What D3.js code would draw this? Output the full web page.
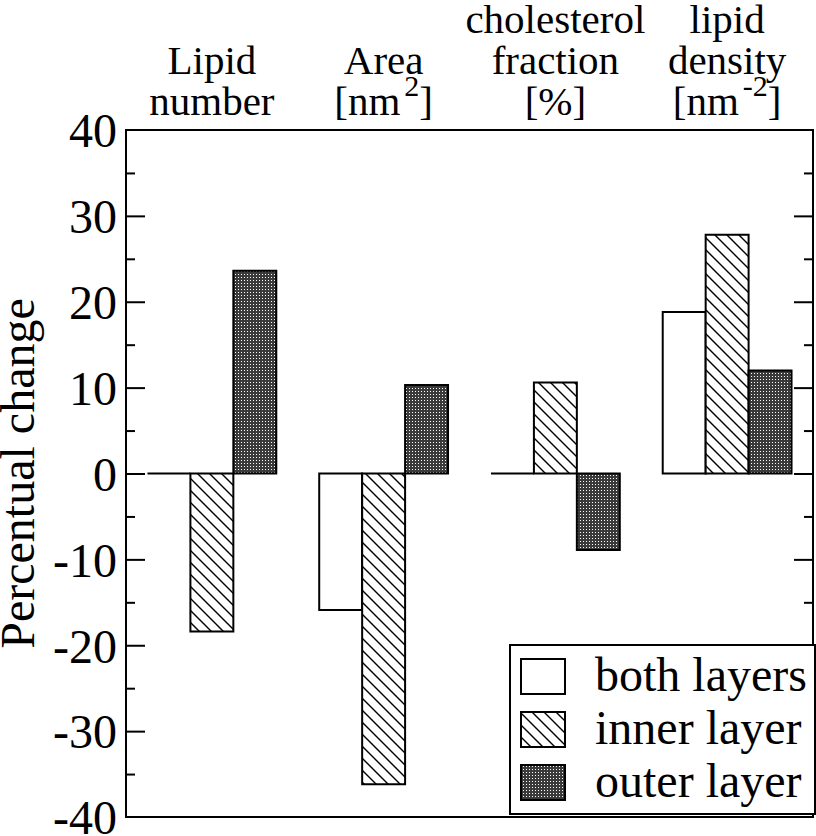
<!DOCTYPE html>
<html>
<head>
<meta charset="utf-8">
<script src="https://cdn.jsdelivr.net/npm/d3@7"></script>
<style>
  html, body { margin: 0; padding: 0; background: #fff; }
  svg { display: block; }
  text { font-family: "Liberation Serif", "Times New Roman", serif; fill: #000; }
</style>
</head>
<body>
<svg id="chart" width="816" height="836"></svg>
<script>
// ---- data ----
const categories = ["lipidNumber", "area", "cholesterol", "density"];
const categoryLabels = [
  [["Lipid"], ["number"]],
  [["Area"], ["[nm", {sup: "2"}, "]"]],
  [["cholesterol"], ["fraction"], ["[%]"]],
  [["lipid"], ["density"], ["[nm", {sup: "-2"}, "]"]]
];
const seriesNames = ["both layers", "inner layer", "outer layer"];
const bothLayers  = [0, -15.9, 0, 18.8];
const innerLayer  = [-18.4, -36.2, 10.6, 27.8];
const outerLayer  = [23.6, 10.3, -8.9, 12.0];
const yMajorTicks = [-40, -30, -20, -10, 0, 10, 20, 30, 40];
const yMinorTicks = [-35, -25, -15, -5, 5, 15, 25, 35];
const yTitle = "Percentual change";

const seriesValues = [bothLayers, innerLayer, outerLayer];

// ---- layout ----
const svg = d3.select("#chart");
const L = 126, R = 813, T = 130, B = 817;

const defs = svg.append("defs");
const hatch = defs.append("pattern").attr("id", "hatch")
  .attr("patternUnits", "userSpaceOnUse").attr("width", 12).attr("height", 12);
hatch.append("rect").attr("width", 12).attr("height", 12).attr("fill", "#fff");
hatch.append("path").attr("d", "M0,0 L12,12 M-2,10 L2,14 M10,-2 L14,2")
  .attr("stroke", "#000").attr("stroke-width", 1.4);
const dots = defs.append("pattern").attr("id", "dots")
  .attr("patternUnits", "userSpaceOnUse").attr("width", 3).attr("height", 3);
dots.append("rect").attr("width", 3).attr("height", 3).attr("fill", "#3a3a3a");
dots.append("rect").attr("x", 1).attr("y", 1).attr("width", 1).attr("height", 1).attr("fill", "#fff");

const fills = ["#fff", "url(#hatch)", "url(#dots)"];

const x = d3.scaleBand().domain(categories).range([L, R])
  .paddingInner(0.25).paddingOuter(0.125);
const xs = d3.scaleBand().domain(seriesNames).range([0, x.bandwidth()]).padding(0);
const y = d3.scaleLinear().domain([-40, 40]).range([B, T]);

// frame
svg.append("rect").attr("x", L).attr("y", T).attr("width", R - L).attr("height", B - T)
  .attr("fill", "none").attr("stroke", "#000").attr("stroke-width", 2);

// bars
const bars = [];
categories.forEach((c, i) => {
  seriesNames.forEach((s, j) => {
    bars.push({c, s, j, v: seriesValues[j][i]});
  });
});
svg.append("g").selectAll("path").data(bars).join("path")
  .attr("d", d => {
    const x0 = x(d.c) + xs(d.s), x1 = x0 + xs.bandwidth();
    const y0 = y(0), y1 = y(d.v);
    return `M${x0},${y0}V${y1}H${x1}V${y0}Z`;
  })
  .attr("fill", d => fills[d.j])
  .attr("stroke", "#000").attr("stroke-width", 2).attr("stroke-linejoin", "miter");

// axes
const fmt = d => String(d);
const axL = svg.append("g").attr("transform", `translate(${L},0)`)
  .call(d3.axisLeft(y).tickValues(yMajorTicks).tickFormat(fmt).tickSizeInner(-19).tickSizeOuter(0).tickPadding(9));
axL.select(".domain").remove();
axL.selectAll("line").attr("stroke-width", 2);
axL.selectAll("text").attr("font-size", 48).attr("dy", "0.35em");
axL.selectAll(".tick").filter(d => d === 40 || d === -40).select("line").remove();

const axLm = svg.append("g").attr("transform", `translate(${L},0)`)
  .call(d3.axisLeft(y).tickValues(yMinorTicks).tickSizeInner(-9).tickSizeOuter(0).tickFormat(""));
axLm.select(".domain").remove();
axLm.selectAll("line").attr("stroke-width", 2);

const axR = svg.append("g").attr("transform", `translate(${R},0)`)
  .call(d3.axisRight(y).tickValues(yMajorTicks.filter(v => Math.abs(v) < 40)).tickSizeInner(-19).tickSizeOuter(0).tickFormat(""));
axR.select(".domain").remove();
axR.selectAll("line").attr("stroke-width", 2);
const axRm = svg.append("g").attr("transform", `translate(${R},0)`)
  .call(d3.axisRight(y).tickValues(yMinorTicks).tickSizeInner(-9).tickSizeOuter(0).tickFormat(""));
axRm.select(".domain").remove();
axRm.selectAll("line").attr("stroke-width", 2);

// y title
svg.append("text")
  .attr("transform", `translate(34,${y(0)}) rotate(-90)`)
  .attr("text-anchor", "middle").attr("font-size", 48)
  .text(yTitle);

// category labels
const rowBaselines = [33, 74, 115];
categories.forEach((c, i) => {
  const lines = categoryLabels[i];
  const cx = x(c) + x.bandwidth() / 2;
  const start = rowBaselines.length - lines.length;
  lines.forEach((parts, k) => {
    const t = svg.append("text").attr("x", cx).attr("y", rowBaselines[start + k])
      .attr("text-anchor", "middle").attr("font-size", 41);
    let raised = false;
    parts.forEach(p => {
      if (typeof p === "string") {
        const ts = t.append("tspan").text(p);
        if (raised) { ts.attr("dy", 19); raised = false; }
      } else {
        t.append("tspan").attr("dy", -19).attr("dx", 4).attr("font-size", 30).text(p.sup);
        raised = true;
      }
    });
  });
});

// legend
const lg = svg.append("g");
lg.append("rect").attr("x", 510).attr("y", 645).attr("width", 305).attr("height", 169)
  .attr("fill", "#fff").attr("stroke", "#000").attr("stroke-width", 2);
const legY = d3.scalePoint().domain(seriesNames).range([659, 765]);
seriesNames.forEach((s, j) => {
  lg.append("rect").attr("x", 521).attr("y", legY(s)).attr("width", 44).attr("height", 35)
    .attr("fill", fills[j]).attr("stroke", "#000").attr("stroke-width", 2);
  lg.append("text").attr("x", 595).attr("y", legY(s) + 32).attr("font-size", 48).text(s);
});
</script>
</body>
</html>
